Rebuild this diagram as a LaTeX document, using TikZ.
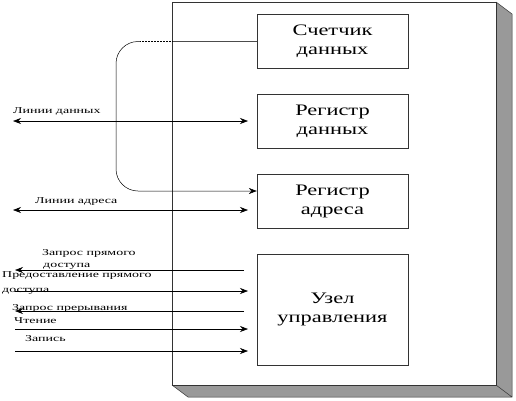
\documentclass[tikz,border=0pt]{standalone}
\usepackage{fontspec}
\setmainfont{Liberation Serif}
\newfontfamily\sigfont[FakeStretch=1.55]{Liberation Serif}
\newfontfamily\blkfont[FakeStretch=1.4]{Liberation Serif}
\usetikzlibrary{arrows.meta,positioning}

\begin{document}
\begin{tikzpicture}[x=1pt, y=-1pt,
  blk/.style={draw=black!80, fill=white, align=center, font=\blkfont\fontsize{16}{19}\selectfont,
              minimum width=151pt, minimum height=54pt, inner sep=0pt},
  arr/.style={-{Stealth[length=8pt,width=6pt]}, line width=0.6pt},
  darr/.style={{Stealth[length=8pt,width=6pt]}-{Stealth[length=8pt,width=6pt]}, line width=0.6pt},
  lbl/.style={font=\sigfont\fontsize{9}{10}\selectfont, inner sep=0pt, anchor=base west}]
\useasboundingbox (0,0) rectangle (516,400);
% device frame with its shadow
\fill[gray!80] (496,2) -- (512,14) -- (512,397) -- (188,397) -- (172,385) -- (496,385) -- cycle;
\draw[black!80, line width=0.5pt] (496,2) -- (512,14) -- (512,397) -- (188,397) -- (172,385)
  (496,385) -- (512,397);
\node[draw=black!80, fill=white, minimum width=324pt, minimum height=383pt, inner sep=0pt]
  (frame) at (334,193.5) {};
% units
\node[blk] (cnt) at (332.5,41.5) {Счетчик\\данных};
\node[blk] (rd) at (332.5,121) {Регистр\\данных};
\node[blk] (ra) at (332.5,201) {Регистр\\адреса};
\node[blk, minimum height=111pt] (cu) at (332.5,309.5) {Узел\\управления};
% line ends
\coordinate (dl) at (13,121);   \coordinate (dr) at (248,121);
\coordinate (al) at (13,210);   \coordinate (ar) at (248,210);
\coordinate (k) at (172,41.5);
\coordinate (rq1) at (244,270); \coordinate (rq0) at (15,270);
\coordinate (gr0) at (15,291);  \coordinate (gr1) at (248,291);
\coordinate (ir1) at (244,311); \coordinate (ir0) at (15,311);
\coordinate (rd0) at (15,329);  \coordinate (rd1) at (248,329);
\coordinate (wr0) at (15,351);  \coordinate (wr1) at (248,351);
% connectors
\draw[darr] (dl) -- (dr);
\draw[darr] (al) -- (ar);
\draw[black!70, line width=0.5pt] (cnt.west) -- (k);
\draw[densely dotted, line width=0.5pt] (k) -- (140,41.5);
\draw[arr, line width=0.5pt, rounded corners=22pt] (140,41.5) -- (116,41.5) -- (116,191) -- (ra.west |- 0,191);
\foreach \a/\b in {rq1/rq0,gr0/gr1,ir1/ir0,rd0/rd1,wr0/wr1} \draw[arr] (\a) -- (\b);
% signal names
\node[lbl] (tdl) at (13,113) {Линии данных};
\node[lbl] (tal) at (35,203) {Линии адреса};
\node[lbl] (trq) at (42,255) {Запрос прямого};
\node[lbl] (trq2) at (43,267) {доступа};
\node[lbl] (tgr) at (2,277) {Предоставление прямого};
\node[lbl] (tgr2) at (2,292) {доступа};
\node[lbl] (tir) at (12,310) {Запрос прерывания};
\node[lbl] (trd) at (14,323) {Чтение};
\node[lbl] (twr) at (25,341) {Запись};
\end{tikzpicture}
\end{document}
